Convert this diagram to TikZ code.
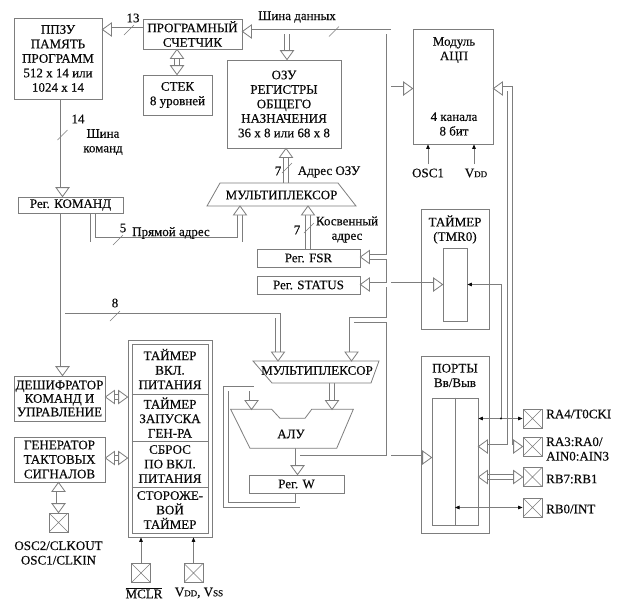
\documentclass[tikz,border=0pt]{standalone}
\usepackage{fontspec}
\setmainfont{Liberation Serif}[FakeBold=0.3]
\usetikzlibrary{arrows.meta,backgrounds}
\definecolor{lc}{RGB}{125,125,125}
\definecolor{tc}{RGB}{10,10,10}
\newcommand\ssc[1]{{\fontsize{9}{9}\selectfont #1}}
\newcommand\busnet{%
 \draw[shorten >=5pt] (pc.west |- 0,29.5) -- (rom.east |- 0,29.5);
 \draw[shorten <=5pt] (pc.east |- 0,31.5) -- (388.5,31.5) -- (388.5,457.5);
 \draw[shorten >=5pt] (287,31.5) -- (ram.north -| 287,0);
 \draw[shorten >=5pt, shorten <=5pt] (pc.south -| 177,0) -- (stack.north -| 177,0);
 \draw[shorten >=5pt] (rom.south -| 62.5,0) -- (ir.north -| 62.5,0);
 \draw[shorten >=5pt] (ir.south -| 62.5,0) -- (dec.north -| 62.5,0);
 \draw[shorten >=5pt] (62.5,315.5) -- (278,315.5) -- (278,361);
 \draw[shorten >=5pt] (ir.south -| 93,0) -- (93,239.5) -- (240,239.5) -- (240,206);
 \draw[shorten >=5pt] (286,183) -- (ram.south -| 286,0);
 \draw[shorten >=5pt] (fsr.north -| 308,0) -- (308,206);
 \draw[shorten >=5pt] (388.5,88.5) -- (adc.west |- 0,88.5);
 \draw[shorten >=5pt] (388.5,257) -- (fsr.east |- 0,257);
 \draw[shorten >=5pt, shorten <=5pt] (status.east |- 0,284.5) -- (tmri.west |- 0,284.5);
 \draw[shorten >=5pt] (388.5,320) -- (351.5,320) -- (351.5,361);
 \draw[shorten >=5pt] (332,383) -- (332,409.5);
 \draw[shorten >=5pt] (297.5,448.3) -- (w.north -| 297.5,0);
 \draw[shorten >=5pt] (297.5,457.5) -- (portsi.west |- 0,457.5);
 \draw[shorten >=5pt] (w.south -| 297.5,0) -- (297.5,505) -- (226,505) -- (226,388.5) -- (251.5,388.5) -- (251.5,409.5);
 \draw[shorten <=5pt] (adc.east |- 0,88.5) -- (510,88.5) -- (510,446.5);
 \draw[shorten <=5pt, shorten >=5pt] (portsi.east |- 0,446.5) -- (pRA3.west |- 0,446.5);
 \draw[shorten <=5pt, shorten >=5pt] (portsi.east |- 0,477) -- (pRB7.west);
 \draw[shorten <=5pt, shorten >=5pt] (dec.east |- 0,397) -- (reset.west |- 0,397);
 \draw[shorten <=5pt, shorten >=5pt] (gen.east |- 0,458) -- (reset.west |- 0,458);
 \draw[shorten <=5pt, shorten >=5pt] (gen.south -| 58.5,0) -- (pOSC.north);
}
\begin{document}
\begin{tikzpicture}[x=1pt,y=-1pt,
  every node/.style={font=\fontsize{13}{14.5}\selectfont, text=tc},
  blk/.style={draw=lc, line width=0.8pt, fill=white, inner sep=0pt, align=center},
  txt/.style={inner sep=0pt, align=center},
  bline/.style={draw=lc, line width=0.8pt},
  sig/.style={draw=lc, line width=0.7pt, -{Triangle[length=4.5pt,width=3.6pt,color=tc]}},
  sigb/.style={draw=lc, line width=0.7pt, {Triangle[length=4.5pt,width=3.6pt,color=tc]}-{Triangle[length=4.5pt,width=3.6pt,color=tc]}},
  xpin/.style={draw=lc, line width=0.8pt, fill=white, minimum size=19pt, inner sep=0pt,
    path picture={\draw[lc, line width=0.6pt] (path picture bounding box.north west) -- (path picture bounding box.south east) (path picture bounding box.north east) -- (path picture bounding box.south west);}},
  busmark/.pic={\draw[lc, line width=0.6pt] (-5,5) -- (5,-5);},
  tipD/.pic={\draw[lc, line width=0.8pt, fill=white] (-6.5,-9) -- (0,0) -- (6.5,-9) -- cycle;},
  tipU/.pic={\draw[lc, line width=0.8pt, fill=white] (-6.5,9) -- (0,0) -- (6.5,9) -- cycle;},
  tipR/.pic={\draw[lc, line width=0.8pt, fill=white] (-9,-6.5) -- (0,0) -- (-9,6.5) -- cycle;},
  tipL/.pic={\draw[lc, line width=0.8pt, fill=white] (9,-6.5) -- (0,0) -- (9,6.5) -- cycle;},
]
\useasboundingbox (0,0) rectangle (627,603);
% ---------- blocks ----------
\node[blk, minimum width=88pt, minimum height=81pt] (rom) at (58,58.5) {ППЗУ\\ПАМЯТЬ\\ПРОГРАММ\\512 x 14 или\\1024 x 14};
\node[blk, minimum width=99pt, minimum height=30pt] (pc) at (192.5,34) {ПРОГРАМНЫЙ\\СЧЕТЧИК};
\node[blk, minimum width=69pt, minimum height=40pt] (stack) at (177.5,95) {СТЕК\\8 уровней};
\node[blk, minimum width=114pt, minimum height=88pt] (ram) at (284,104) {ОЗУ\\РЕГИСТРЫ\\ОБЩЕГО\\НАЗНАЧЕНИЯ\\36 x 8 или 68 x 8};
\node[blk, minimum width=80pt, minimum height=115pt] (adc) at (453,86.5) {};
\node[txt] (adct) at (454,50) {Модуль\\АЦП};
\node[txt] (adcb) at (454,124) {4 канала\\8 бит};
\node[blk, minimum width=105pt, minimum height=16pt] (ir) at (70.5,205) {Рег. КОМАНД};
\node[blk, minimum width=103pt, minimum height=18pt] (fsr) at (308.5,258) {Рег. FSR};
\node[blk, minimum width=103pt, minimum height=18pt] (status) at (308.5,285) {Рег. STATUS};
\node[blk, fill=none, minimum width=68pt, minimum height=120pt] (tmr) at (455,269) {};
\node[txt] (tmrt) at (455,229.5) {ТАЙМЕР\\(TMR0)};
\node[blk, minimum width=24pt, minimum height=73pt] (tmri) at (455,284.5) {};
\node[blk, fill=none, minimum width=68pt, minimum height=177pt] (ports) at (455,444.5) {};
\node[txt] (portst) at (455,375.5) {ПОРТЫ\\Вв/Выв};
\node[blk, minimum width=46pt, minimum height=127pt] (portsi) at (455,461.5) {};
\draw[bline] (portsi.north) -- (portsi.south);
\node[blk, minimum width=95pt, minimum height=18pt] (w) at (296.5,484) {Рег. W};
\node[blk, minimum width=91pt, minimum height=45pt, font=\fontsize{13}{13.5}\selectfont] (dec) at (59.5,398.5) {ДЕШИФРАТОР\\КОМАНД И\\УПРАВЛЕНИЕ};
\node[blk, minimum width=91pt, minimum height=45pt] (gen) at (59.5,459.5) {ГЕНЕРАТОР\\ТАКТОВЫХ\\СИГНАЛОВ};
\node[blk, minimum width=84pt, minimum height=197pt] (reset) at (170,438.5) {};
\node[blk, minimum width=76pt, minimum height=189pt] (reseti) at (170,438.5) {};
\draw[bline] (reseti.west |- 0,394) -- (reseti.east |- 0,394)
             (reseti.west |- 0,441) -- (reseti.east |- 0,441)
             (reseti.west |- 0,487) -- (reseti.east |- 0,487);
\node[txt] (r1) at (170,369) {ТАЙМЕР\\ВКЛ.\\ПИТАНИЯ};
\node[txt] (r2) at (170,417.5) {ТАЙМЕР\\ЗАПУСКА\\ГЕН-РА};
\node[txt] (r3) at (170,464) {СБРОС\\ПО ВКЛ.\\ПИТАНИЯ};
\node[txt] (r4) at (170,510) {СТОРОЖЕ-\\ВОЙ\\ТАЙМЕР};
% multiplexers and ALU
\draw[bline, fill=white] (220,183) -- (338,183) -- (356,206) -- (207,206) -- cycle;
\node[txt] (mux1) at (281.5,195) {МУЛЬТИПЛЕКСОР};
\draw[bline, fill=white] (253,361) -- (379,361) -- (371,383) -- (272,383) -- cycle;
\node[txt] (mux2) at (317,370.5) {МУЛЬТИПЛЕКСОР};
\draw[bline, fill=white] (230.7,409.3) -- (271.7,409.3) -- (280,418.3) -- (305,418.3) -- (311.7,409.3) -- (353.3,409.3) -- (336.7,448.3) -- (250,448.3) -- cycle;
\node[txt] (alu) at (291,434) {АЛУ};
% pins
\node[xpin] (pRA4) at (532.5,418.5) {};
\node[xpin] (pRA3) at (532.5,446.5) {};
\node[xpin] (pRB7) at (532.5,477) {};
\node[xpin] (pRB0) at (532.5,507.5) {};
\node[xpin] (pOSC) at (58.5,522.5) {};
\node[xpin] (pMCLR) at (141,573) {};
\node[xpin] (pVDD) at (193.5,573) {};
\node[txt, anchor=west] (lRA4) at (546,414) {RA4/T0CKI};
\node[txt, anchor=west, align=left] (lRA3) at (546,449) {RA3:RA0/\\AIN0:AIN3};
\node[txt, anchor=west] (lRB7) at (546,479) {RB7:RB1};
\node[txt, anchor=west] (lRB0) at (546,509) {RB0/INT};
\node[txt] (lOSC) at (58.5,553) {OSC2/CLKOUT\\OSC1/CLKIN};
\node[txt] (lMCLR) at (144,593) {$\overline{\hbox{MCLR}}$};
\node[txt] (lVDD) at (199,593) {V\ssc{DD}, V\ssc{SS}};
\node[txt] (lOSC1) at (428,173) {OSC1};
\node[txt] (lVDDa) at (476,173) {V\ssc{DD}};
% ---------- buses (two-pass double lines) ----------
\begin{pgfonlayer}{background}
 \fill[white] (0,0) rectangle (627,603);
 \begin{scope}[line width=5.6pt, color=lc] \busnet \end{scope}
 \begin{scope}[line width=4.0pt, color=white] \busnet \end{scope}
\end{pgfonlayer}
% bus arrow tips
\pic at (rom.east |- 0,29.5) {tipL};
\pic at (pc.east |- 0,31.5) {tipL};
\pic at (ram.north -| 287,0) {tipD};
\pic at (pc.south -| 177,0) {tipU};
\pic at (stack.north -| 177,0) {tipD};
\pic at (ir.north -| 62.5,0) {tipD};
\pic at (dec.north -| 62.5,0) {tipD};
\pic at (278,361) {tipD};
\pic at (240,206) {tipU};
\pic at (ram.south -| 286,0) {tipU};
\pic at (308,206) {tipU};
\pic at (adc.west |- 0,88.5) {tipR};
\pic at (fsr.east |- 0,257) {tipL};
\pic at (status.east |- 0,284.5) {tipL};
\pic at (tmri.west |- 0,284.5) {tipR};
\pic at (351.5,361) {tipD};
\pic at (332,409.5) {tipD};
\pic at (w.north -| 297.5,0) {tipD};
\pic at (portsi.west |- 0,457.5) {tipR};
\pic at (251.5,409.5) {tipD};
\pic at (adc.east |- 0,88.5) {tipL};
\pic at (portsi.east |- 0,446.5) {tipL};
\pic at (pRA3.west |- 0,446.5) {tipR};
\pic at (portsi.east |- 0,477) {tipL};
\pic at (pRB7.west) {tipR};
\pic at (dec.east |- 0,397) {tipL};
\pic at (reset.west |- 0,397) {tipR};
\pic at (gen.east |- 0,458) {tipL};
\pic at (reset.west |- 0,458) {tipR};
\pic at (gen.south -| 58.5,0) {tipU};
\pic at (pOSC.north) {tipD};
% ---------- thin signal lines ----------
\draw[sig] (428,164) -- (adc.south -| 428,0);
\draw[sig] (474,164) -- (adc.south -| 474,0);
\draw[sigb] (portsi.east |- pRA4) -- (pRA4.west);
\draw[sig] (501,418.5) -- (501,284.5) -- (tmri.east |- 0,284.5);
\fill[tc] (501,418.5) circle (1.1pt);
\draw[sigb] (portsi.north |- 0,507.5) -- (pRB0.west);
\draw[sig] (pMCLR.north) -- (reset.south -| pMCLR);
\draw[sig] (pVDD.north) -- (reset.south -| pVDD);
% ---------- bus labels ----------
\node[txt] (n13) at (133,18) {13};
\pic at (129,30) {busmark};
\node[txt] (ldb) at (297,17) {Шина данных};
\pic at (334,31.5) {busmark};
\node[txt] (n14) at (78,119) {14};
\pic at (62.5,135) {busmark};
\node[txt] (lib) at (103,142) {Шина\\команд};
\node[txt] (n5) at (123,228) {5};
\pic at (118,240) {busmark};
\node[txt, anchor=base] (lda) at (171,236) {Прямой адрес};
\node[txt] (n7a) at (278,171) {7};
\pic at (287,168) {busmark};
\node[txt] (lra) at (329,172) {Адрес ОЗУ};
\node[txt] (n7b) at (297,230) {7};
\pic at (309,228) {busmark};
\node[txt] (lia) at (347,229.5) {Косвенный\\адрес};
\node[txt] (n8) at (115,303) {8};
\pic at (115,316) {busmark};
\end{tikzpicture}
\end{document}
